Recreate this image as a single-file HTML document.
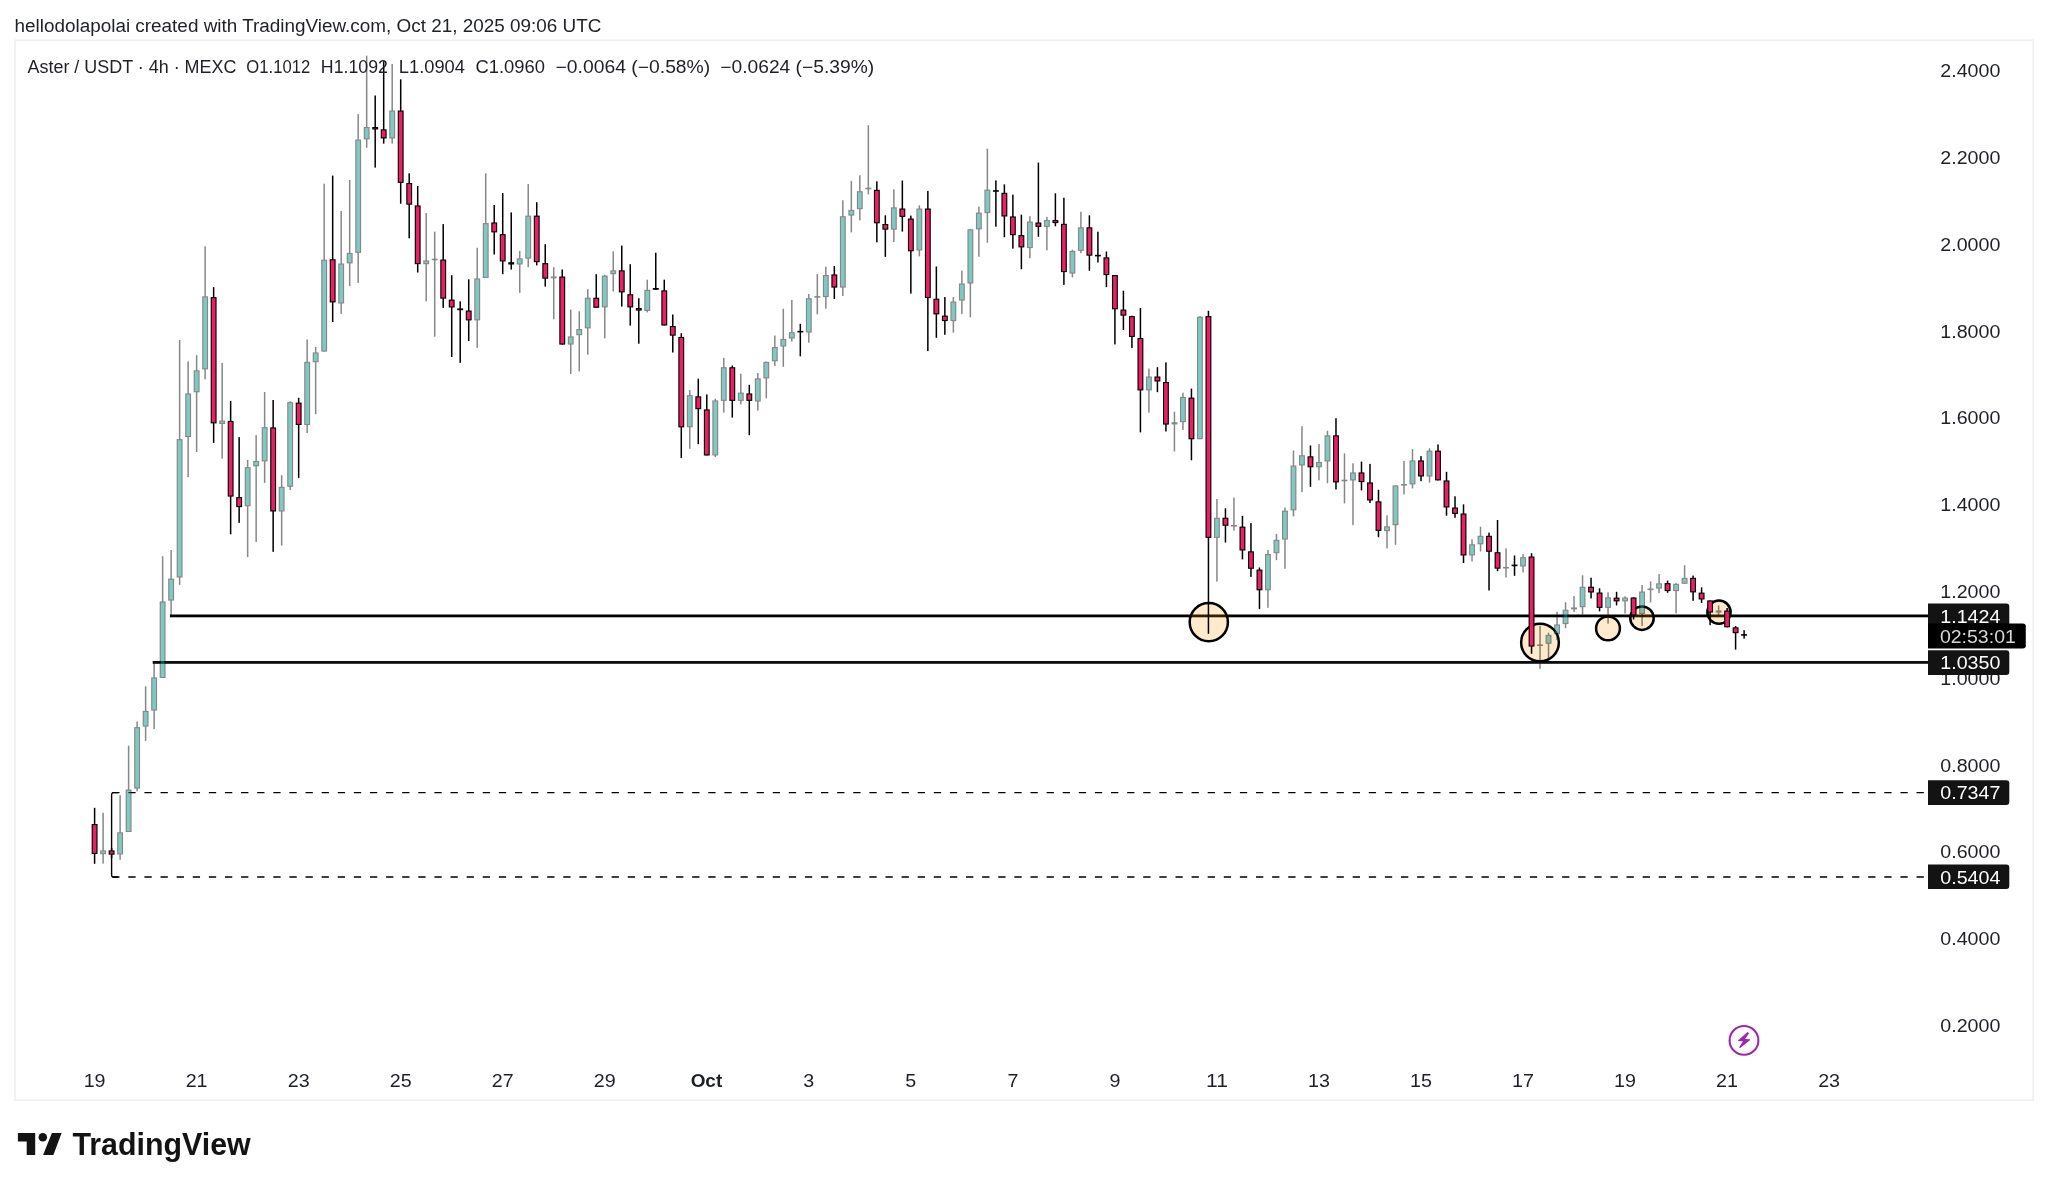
<!DOCTYPE html>
<html><head><meta charset="utf-8"><title>Aster / USDT chart</title>
<style>html,body{margin:0;padding:0;background:#fff;width:2048px;height:1189px;overflow:hidden}</style>
</head><body>
<svg width="2048" height="1189" viewBox="0 0 2048 1189" style="display:block;will-change:transform"><rect x="0" y="0" width="2048" height="1189" fill="#ffffff"/><rect x="15" y="40.2" width="2018.2" height="1060" fill="none" stroke="#f0f0f0" stroke-width="1.6"/><text x="14.55" y="31.9" font-family="'Liberation Sans', Arial, sans-serif" font-size="18" fill="#1e2026" textLength="586.8" lengthAdjust="spacingAndGlyphs">hellodolapolai created with TradingView.com, Oct 21, 2025 09:06 UTC</text><text x="1940.31" y="77.2" font-family="'Liberation Sans', Arial, sans-serif" font-size="18" fill="#1e2026" textLength="60.06" lengthAdjust="spacingAndGlyphs">2.4000</text><text x="1940.31" y="164.0" font-family="'Liberation Sans', Arial, sans-serif" font-size="18" fill="#1e2026" textLength="60.06" lengthAdjust="spacingAndGlyphs">2.2000</text><text x="1940.31" y="250.8" font-family="'Liberation Sans', Arial, sans-serif" font-size="18" fill="#1e2026" textLength="60.06" lengthAdjust="spacingAndGlyphs">2.0000</text><text x="1940.31" y="337.6" font-family="'Liberation Sans', Arial, sans-serif" font-size="18" fill="#1e2026" textLength="60.06" lengthAdjust="spacingAndGlyphs">1.8000</text><text x="1940.31" y="424.4" font-family="'Liberation Sans', Arial, sans-serif" font-size="18" fill="#1e2026" textLength="60.06" lengthAdjust="spacingAndGlyphs">1.6000</text><text x="1940.31" y="511.2" font-family="'Liberation Sans', Arial, sans-serif" font-size="18" fill="#1e2026" textLength="60.06" lengthAdjust="spacingAndGlyphs">1.4000</text><text x="1940.31" y="598.0" font-family="'Liberation Sans', Arial, sans-serif" font-size="18" fill="#1e2026" textLength="60.06" lengthAdjust="spacingAndGlyphs">1.2000</text><text x="1940.31" y="684.8" font-family="'Liberation Sans', Arial, sans-serif" font-size="18" fill="#1e2026" textLength="60.06" lengthAdjust="spacingAndGlyphs">1.0000</text><text x="1940.31" y="771.6" font-family="'Liberation Sans', Arial, sans-serif" font-size="18" fill="#1e2026" textLength="60.06" lengthAdjust="spacingAndGlyphs">0.8000</text><text x="1940.31" y="858.4" font-family="'Liberation Sans', Arial, sans-serif" font-size="18" fill="#1e2026" textLength="60.06" lengthAdjust="spacingAndGlyphs">0.6000</text><text x="1940.31" y="945.2" font-family="'Liberation Sans', Arial, sans-serif" font-size="18" fill="#1e2026" textLength="60.06" lengthAdjust="spacingAndGlyphs">0.4000</text><text x="1940.31" y="1032.0" font-family="'Liberation Sans', Arial, sans-serif" font-size="18" fill="#1e2026" textLength="60.06" lengthAdjust="spacingAndGlyphs">0.2000</text><text x="83.65" y="1087.2" font-family="'Liberation Sans', Arial, sans-serif" font-size="18" fill="#1e2026" textLength="21.91" lengthAdjust="spacingAndGlyphs">19</text><text x="185.68" y="1087.2" font-family="'Liberation Sans', Arial, sans-serif" font-size="18" fill="#1e2026" textLength="21.91" lengthAdjust="spacingAndGlyphs">21</text><text x="287.71" y="1087.2" font-family="'Liberation Sans', Arial, sans-serif" font-size="18" fill="#1e2026" textLength="21.91" lengthAdjust="spacingAndGlyphs">23</text><text x="389.74" y="1087.2" font-family="'Liberation Sans', Arial, sans-serif" font-size="18" fill="#1e2026" textLength="21.91" lengthAdjust="spacingAndGlyphs">25</text><text x="491.77" y="1087.2" font-family="'Liberation Sans', Arial, sans-serif" font-size="18" fill="#1e2026" textLength="21.91" lengthAdjust="spacingAndGlyphs">27</text><text x="593.80" y="1087.2" font-family="'Liberation Sans', Arial, sans-serif" font-size="18" fill="#1e2026" textLength="21.91" lengthAdjust="spacingAndGlyphs">29</text><text x="690.65" y="1087.2" font-family="'Liberation Sans', Arial, sans-serif" font-size="18" font-weight="bold" fill="#1e2026" textLength="31.57" lengthAdjust="spacingAndGlyphs">Oct</text><text x="803.34" y="1087.2" font-family="'Liberation Sans', Arial, sans-serif" font-size="18" fill="#1e2026" textLength="10.95" lengthAdjust="spacingAndGlyphs">3</text><text x="905.37" y="1087.2" font-family="'Liberation Sans', Arial, sans-serif" font-size="18" fill="#1e2026" textLength="10.95" lengthAdjust="spacingAndGlyphs">5</text><text x="1007.40" y="1087.2" font-family="'Liberation Sans', Arial, sans-serif" font-size="18" fill="#1e2026" textLength="10.95" lengthAdjust="spacingAndGlyphs">7</text><text x="1109.43" y="1087.2" font-family="'Liberation Sans', Arial, sans-serif" font-size="18" fill="#1e2026" textLength="10.95" lengthAdjust="spacingAndGlyphs">9</text><text x="1205.99" y="1087.2" font-family="'Liberation Sans', Arial, sans-serif" font-size="18" fill="#1e2026" textLength="21.91" lengthAdjust="spacingAndGlyphs">11</text><text x="1308.02" y="1087.2" font-family="'Liberation Sans', Arial, sans-serif" font-size="18" fill="#1e2026" textLength="21.91" lengthAdjust="spacingAndGlyphs">13</text><text x="1410.05" y="1087.2" font-family="'Liberation Sans', Arial, sans-serif" font-size="18" fill="#1e2026" textLength="21.91" lengthAdjust="spacingAndGlyphs">15</text><text x="1512.08" y="1087.2" font-family="'Liberation Sans', Arial, sans-serif" font-size="18" fill="#1e2026" textLength="21.91" lengthAdjust="spacingAndGlyphs">17</text><text x="1614.11" y="1087.2" font-family="'Liberation Sans', Arial, sans-serif" font-size="18" fill="#1e2026" textLength="21.91" lengthAdjust="spacingAndGlyphs">19</text><text x="1716.14" y="1087.2" font-family="'Liberation Sans', Arial, sans-serif" font-size="18" fill="#1e2026" textLength="21.91" lengthAdjust="spacingAndGlyphs">21</text><text x="1818.18" y="1087.2" font-family="'Liberation Sans', Arial, sans-serif" font-size="18" fill="#1e2026" textLength="21.91" lengthAdjust="spacingAndGlyphs">23</text><rect x="169.9" y="614.5" width="1758.3" height="2.8" fill="#000"/><rect x="152.7" y="661.0" width="1775.5" height="2.8" fill="#0d0d0d"/><line x1="112.2" y1="792.6" x2="1928" y2="792.6" stroke="#000" stroke-width="1.45" stroke-dasharray="7.3 8.81"/><line x1="112.2" y1="877.0" x2="1928" y2="877.0" stroke="#000" stroke-width="1.45" stroke-dasharray="7.3 8.81"/><path d="M 118 792.6 L 113.6 792.6 Q 111.6 792.6 111.6 794.6 L 111.6 875 Q 111.6 877 113.6 877 L 118 877" fill="none" stroke="#000" stroke-width="1.4"/><circle cx="1208.8" cy="622.2" r="19.1" fill="rgba(255,152,0,0.2)" stroke="#000" stroke-width="2.5"/><circle cx="1540.0" cy="642.5" r="18.85" fill="rgba(255,152,0,0.2)" stroke="#000" stroke-width="2.5"/><circle cx="1608" cy="628.4" r="11.9" fill="rgba(255,152,0,0.2)" stroke="#000" stroke-width="2.5"/><circle cx="1642" cy="618.2" r="11.7" fill="rgba(255,152,0,0.2)" stroke="#000" stroke-width="2.5"/><circle cx="1719" cy="612.2" r="11.6" fill="rgba(255,152,0,0.2)" stroke="#000" stroke-width="2.5"/><rect x="93.85" y="807.80" width="1.5" height="56.00" fill="#000000"/><rect x="91.65" y="824.00" width="5.90" height="30.00" fill="#000000"/><rect x="92.80" y="825.10" width="3.60" height="27.80" fill="#ec1f66"/><g opacity="0.5"><rect x="102.35" y="812.80" width="1.5" height="50.80" fill="#111111"/><rect x="100.15" y="850.40" width="5.90" height="3.80" fill="#111111"/><rect x="101.30" y="851.50" width="3.60" height="1.60" fill="#009688"/></g><rect x="110.86" y="848.00" width="1.5" height="10.00" fill="#000000"/><rect x="108.66" y="850.40" width="5.90" height="4.30" fill="#000000"/><rect x="109.81" y="851.50" width="3.60" height="2.10" fill="#ec1f66"/><g opacity="0.5"><rect x="119.36" y="795.20" width="1.5" height="64.60" fill="#111111"/><rect x="117.16" y="832.30" width="5.90" height="22.20" fill="#111111"/><rect x="118.31" y="833.40" width="3.60" height="20.00" fill="#009688"/></g><g opacity="0.5"><rect x="127.86" y="745.70" width="1.5" height="86.30" fill="#111111"/><rect x="125.66" y="789.50" width="5.90" height="42.50" fill="#111111"/><rect x="126.81" y="790.60" width="3.60" height="40.30" fill="#009688"/></g><g opacity="0.5"><rect x="136.36" y="721.40" width="1.5" height="70.00" fill="#111111"/><rect x="134.16" y="727.10" width="5.90" height="61.50" fill="#111111"/><rect x="135.31" y="728.20" width="3.60" height="59.30" fill="#009688"/></g><g opacity="0.5"><rect x="144.87" y="686.30" width="1.5" height="54.60" fill="#111111"/><rect x="142.67" y="710.90" width="5.90" height="15.70" fill="#111111"/><rect x="143.82" y="712.00" width="3.60" height="13.50" fill="#009688"/></g><g opacity="0.5"><rect x="153.37" y="662.30" width="1.5" height="66.80" fill="#111111"/><rect x="151.17" y="677.40" width="5.90" height="33.20" fill="#111111"/><rect x="152.32" y="678.50" width="3.60" height="31.00" fill="#009688"/></g><g opacity="0.5"><rect x="161.87" y="556.30" width="1.5" height="121.70" fill="#111111"/><rect x="159.67" y="601.40" width="5.90" height="76.60" fill="#111111"/><rect x="160.82" y="602.50" width="3.60" height="74.40" fill="#009688"/></g><g opacity="0.5"><rect x="170.37" y="550.00" width="1.5" height="65.70" fill="#111111"/><rect x="168.17" y="578.60" width="5.90" height="22.00" fill="#111111"/><rect x="169.32" y="579.70" width="3.60" height="19.80" fill="#009688"/></g><g opacity="0.5"><rect x="178.88" y="340.00" width="1.5" height="244.90" fill="#111111"/><rect x="176.68" y="439.10" width="5.90" height="138.40" fill="#111111"/><rect x="177.83" y="440.20" width="3.60" height="136.20" fill="#009688"/></g><g opacity="0.5"><rect x="187.38" y="361.40" width="1.5" height="115.70" fill="#111111"/><rect x="185.18" y="393.40" width="5.90" height="43.70" fill="#111111"/><rect x="186.33" y="394.50" width="3.60" height="41.50" fill="#009688"/></g><g opacity="0.5"><rect x="195.88" y="355.10" width="1.5" height="96.90" fill="#111111"/><rect x="193.68" y="370.30" width="5.90" height="22.00" fill="#111111"/><rect x="194.83" y="371.40" width="3.60" height="19.80" fill="#009688"/></g><g opacity="0.5"><rect x="204.38" y="246.30" width="1.5" height="133.10" fill="#111111"/><rect x="202.18" y="296.30" width="5.90" height="73.10" fill="#111111"/><rect x="203.33" y="297.40" width="3.60" height="70.90" fill="#009688"/></g><rect x="212.89" y="287.10" width="1.5" height="155.80" fill="#000000"/><rect x="210.69" y="297.10" width="5.90" height="126.30" fill="#000000"/><rect x="211.84" y="298.20" width="3.60" height="124.10" fill="#ec1f66"/><g opacity="0.5"><rect x="221.39" y="362.90" width="1.5" height="95.70" fill="#111111"/><rect x="219.19" y="420.60" width="5.90" height="3.40" fill="#111111"/><rect x="220.34" y="421.70" width="3.60" height="1.20" fill="#009688"/></g><rect x="229.89" y="400.90" width="1.5" height="133.40" fill="#000000"/><rect x="227.69" y="420.90" width="5.90" height="75.70" fill="#000000"/><rect x="228.84" y="422.00" width="3.60" height="73.50" fill="#ec1f66"/><rect x="238.39" y="437.10" width="1.5" height="85.80" fill="#000000"/><rect x="236.19" y="497.10" width="5.90" height="10.00" fill="#000000"/><rect x="237.34" y="498.20" width="3.60" height="7.80" fill="#ec1f66"/><g opacity="0.5"><rect x="246.90" y="460.00" width="1.5" height="97.10" fill="#111111"/><rect x="244.70" y="467.10" width="5.90" height="39.20" fill="#111111"/><rect x="245.85" y="468.20" width="3.60" height="37.00" fill="#009688"/></g><g opacity="0.5"><rect x="255.40" y="435.10" width="1.5" height="106.90" fill="#111111"/><rect x="253.20" y="460.90" width="5.90" height="5.40" fill="#111111"/><rect x="254.35" y="462.00" width="3.60" height="3.20" fill="#009688"/></g><g opacity="0.5"><rect x="263.90" y="392.00" width="1.5" height="90.90" fill="#111111"/><rect x="261.70" y="427.10" width="5.90" height="34.30" fill="#111111"/><rect x="262.85" y="428.20" width="3.60" height="32.10" fill="#009688"/></g><rect x="272.40" y="400.00" width="1.5" height="151.80" fill="#000000"/><rect x="270.20" y="427.40" width="5.90" height="84.10" fill="#000000"/><rect x="271.35" y="428.50" width="3.60" height="81.90" fill="#ec1f66"/><g opacity="0.5"><rect x="280.91" y="475.20" width="1.5" height="70.40" fill="#111111"/><rect x="278.71" y="486.80" width="5.90" height="24.70" fill="#111111"/><rect x="279.86" y="487.90" width="3.60" height="22.50" fill="#009688"/></g><g opacity="0.5"><rect x="289.41" y="401.30" width="1.5" height="88.70" fill="#111111"/><rect x="287.21" y="402.10" width="5.90" height="84.70" fill="#111111"/><rect x="288.36" y="403.20" width="3.60" height="82.50" fill="#009688"/></g><rect x="297.91" y="397.80" width="1.5" height="80.10" fill="#000000"/><rect x="295.71" y="402.60" width="5.90" height="22.40" fill="#000000"/><rect x="296.86" y="403.70" width="3.60" height="20.20" fill="#ec1f66"/><g opacity="0.5"><rect x="306.41" y="339.50" width="1.5" height="93.50" fill="#111111"/><rect x="304.21" y="361.80" width="5.90" height="63.20" fill="#111111"/><rect x="305.36" y="362.90" width="3.60" height="61.00" fill="#009688"/></g><g opacity="0.5"><rect x="314.92" y="347.00" width="1.5" height="67.20" fill="#111111"/><rect x="312.72" y="352.40" width="5.90" height="9.90" fill="#111111"/><rect x="313.87" y="353.50" width="3.60" height="7.70" fill="#009688"/></g><g opacity="0.5"><rect x="323.42" y="183.70" width="1.5" height="167.90" fill="#111111"/><rect x="321.22" y="259.70" width="5.90" height="91.90" fill="#111111"/><rect x="322.37" y="260.80" width="3.60" height="89.70" fill="#009688"/></g><rect x="331.92" y="175.60" width="1.5" height="146.40" fill="#000000"/><rect x="329.72" y="259.20" width="5.90" height="43.20" fill="#000000"/><rect x="330.87" y="260.30" width="3.60" height="41.00" fill="#ec1f66"/><g opacity="0.5"><rect x="340.43" y="211.00" width="1.5" height="102.90" fill="#111111"/><rect x="338.23" y="263.50" width="5.90" height="40.00" fill="#111111"/><rect x="339.38" y="264.60" width="3.60" height="37.80" fill="#009688"/></g><g opacity="0.5"><rect x="348.93" y="180.00" width="1.5" height="106.10" fill="#111111"/><rect x="346.73" y="252.90" width="5.90" height="10.50" fill="#111111"/><rect x="347.88" y="254.00" width="3.60" height="8.30" fill="#009688"/></g><g opacity="0.5"><rect x="357.43" y="114.10" width="1.5" height="168.80" fill="#111111"/><rect x="355.23" y="139.50" width="5.90" height="113.40" fill="#111111"/><rect x="356.38" y="140.60" width="3.60" height="111.20" fill="#009688"/></g><g opacity="0.5"><rect x="365.93" y="55.70" width="1.5" height="92.10" fill="#111111"/><rect x="363.73" y="127.00" width="5.90" height="12.40" fill="#111111"/><rect x="364.88" y="128.10" width="3.60" height="10.20" fill="#009688"/></g><rect x="374.44" y="95.50" width="1.5" height="72.10" fill="#000000"/><rect x="372.24" y="127.00" width="5.90" height="2.50" fill="#000000"/><rect x="373.39" y="128.10" width="3.60" height="0.30" fill="#ec1f66"/><rect x="382.94" y="61.30" width="1.5" height="82.30" fill="#000000"/><rect x="380.74" y="129.30" width="5.90" height="9.20" fill="#000000"/><rect x="381.89" y="130.40" width="3.60" height="7.00" fill="#ec1f66"/><g opacity="0.5"><rect x="391.44" y="63.90" width="1.5" height="79.70" fill="#111111"/><rect x="389.24" y="110.50" width="5.90" height="28.00" fill="#111111"/><rect x="390.39" y="111.60" width="3.60" height="25.80" fill="#009688"/></g><rect x="399.94" y="79.30" width="1.5" height="124.40" fill="#000000"/><rect x="397.74" y="110.50" width="5.90" height="72.40" fill="#000000"/><rect x="398.89" y="111.60" width="3.60" height="70.20" fill="#ec1f66"/><rect x="408.45" y="173.30" width="1.5" height="65.00" fill="#000000"/><rect x="406.25" y="183.00" width="5.90" height="21.70" fill="#000000"/><rect x="407.40" y="184.10" width="3.60" height="19.50" fill="#ec1f66"/><rect x="416.95" y="186.00" width="1.5" height="86.50" fill="#000000"/><rect x="414.75" y="205.40" width="5.90" height="58.80" fill="#000000"/><rect x="415.90" y="206.50" width="3.60" height="56.60" fill="#ec1f66"/><g opacity="0.5"><rect x="425.45" y="213.00" width="1.5" height="88.30" fill="#111111"/><rect x="423.25" y="260.40" width="5.90" height="3.80" fill="#111111"/><rect x="424.40" y="261.50" width="3.60" height="1.60" fill="#009688"/></g><g opacity="0.5"><rect x="433.95" y="231.60" width="1.5" height="105.10" fill="#111111"/><rect x="431.75" y="258.70" width="5.90" height="1.6" fill="#111111"/></g><rect x="442.46" y="224.10" width="1.5" height="83.80" fill="#000000"/><rect x="440.26" y="259.50" width="5.90" height="39.20" fill="#000000"/><rect x="441.41" y="260.60" width="3.60" height="37.00" fill="#ec1f66"/><rect x="450.96" y="275.20" width="1.5" height="81.80" fill="#000000"/><rect x="448.76" y="299.60" width="5.90" height="7.90" fill="#000000"/><rect x="449.91" y="300.70" width="3.60" height="5.70" fill="#ec1f66"/><rect x="459.46" y="301.30" width="1.5" height="61.50" fill="#000000"/><rect x="457.26" y="308.40" width="5.90" height="1.80" fill="#000000"/><rect x="467.96" y="279.30" width="1.5" height="61.80" fill="#000000"/><rect x="465.76" y="310.50" width="5.90" height="9.90" fill="#000000"/><rect x="466.91" y="311.60" width="3.60" height="7.70" fill="#ec1f66"/><g opacity="0.5"><rect x="476.47" y="247.80" width="1.5" height="100.00" fill="#111111"/><rect x="474.27" y="278.40" width="5.90" height="42.00" fill="#111111"/><rect x="475.42" y="279.50" width="3.60" height="39.80" fill="#009688"/></g><g opacity="0.5"><rect x="484.97" y="173.30" width="1.5" height="104.70" fill="#111111"/><rect x="482.77" y="223.10" width="5.90" height="54.90" fill="#111111"/><rect x="483.92" y="224.20" width="3.60" height="52.70" fill="#009688"/></g><rect x="493.47" y="205.00" width="1.5" height="49.50" fill="#000000"/><rect x="491.27" y="222.40" width="5.90" height="10.00" fill="#000000"/><rect x="492.42" y="223.50" width="3.60" height="7.80" fill="#ec1f66"/><rect x="501.97" y="193.00" width="1.5" height="81.20" fill="#000000"/><rect x="499.77" y="234.10" width="5.90" height="27.40" fill="#000000"/><rect x="500.92" y="235.20" width="3.60" height="25.20" fill="#ec1f66"/><rect x="510.48" y="212.40" width="1.5" height="57.10" fill="#000000"/><rect x="508.28" y="262.20" width="5.90" height="2.30" fill="#000000"/><rect x="509.43" y="263.30" width="3.60" height="0.10" fill="#ec1f66"/><g opacity="0.5"><rect x="518.98" y="250.90" width="1.5" height="41.90" fill="#111111"/><rect x="516.78" y="258.30" width="5.90" height="6.20" fill="#111111"/><rect x="517.93" y="259.40" width="3.60" height="4.00" fill="#009688"/></g><g opacity="0.5"><rect x="527.48" y="184.10" width="1.5" height="83.10" fill="#111111"/><rect x="525.28" y="215.60" width="5.90" height="43.10" fill="#111111"/><rect x="526.43" y="216.70" width="3.60" height="40.90" fill="#009688"/></g><rect x="535.99" y="202.20" width="1.5" height="63.20" fill="#000000"/><rect x="533.79" y="215.60" width="5.90" height="46.60" fill="#000000"/><rect x="534.94" y="216.70" width="3.60" height="44.40" fill="#ec1f66"/><rect x="544.49" y="244.20" width="1.5" height="42.40" fill="#000000"/><rect x="542.29" y="263.10" width="5.90" height="15.60" fill="#000000"/><rect x="543.44" y="264.20" width="3.60" height="13.40" fill="#ec1f66"/><g opacity="0.5"><rect x="552.99" y="267.20" width="1.5" height="52.10" fill="#111111"/><rect x="550.79" y="276.50" width="5.90" height="1.80" fill="#111111"/></g><rect x="561.49" y="269.50" width="1.5" height="75.10" fill="#000000"/><rect x="559.29" y="276.50" width="5.90" height="68.10" fill="#000000"/><rect x="560.44" y="277.60" width="3.60" height="65.90" fill="#ec1f66"/><g opacity="0.5"><rect x="570.00" y="309.60" width="1.5" height="64.50" fill="#111111"/><rect x="567.80" y="336.40" width="5.90" height="8.20" fill="#111111"/><rect x="568.95" y="337.50" width="3.60" height="6.00" fill="#009688"/></g><g opacity="0.5"><rect x="578.50" y="311.30" width="1.5" height="60.10" fill="#111111"/><rect x="576.30" y="329.00" width="5.90" height="6.20" fill="#111111"/><rect x="577.45" y="330.10" width="3.60" height="4.00" fill="#009688"/></g><g opacity="0.5"><rect x="587.00" y="289.20" width="1.5" height="65.50" fill="#111111"/><rect x="584.80" y="297.70" width="5.90" height="30.70" fill="#111111"/><rect x="585.95" y="298.80" width="3.60" height="28.50" fill="#009688"/></g><rect x="595.50" y="274.20" width="1.5" height="33.60" fill="#000000"/><rect x="593.30" y="297.70" width="5.90" height="10.10" fill="#000000"/><rect x="594.45" y="298.80" width="3.60" height="7.90" fill="#ec1f66"/><g opacity="0.5"><rect x="604.01" y="274.80" width="1.5" height="63.60" fill="#111111"/><rect x="601.81" y="275.60" width="5.90" height="31.80" fill="#111111"/><rect x="602.96" y="276.70" width="3.60" height="29.60" fill="#009688"/></g><g opacity="0.5"><rect x="612.51" y="251.40" width="1.5" height="40.10" fill="#111111"/><rect x="610.31" y="270.30" width="5.90" height="3.90" fill="#111111"/><rect x="611.46" y="271.40" width="3.60" height="1.70" fill="#009688"/></g><rect x="621.01" y="245.60" width="1.5" height="61.00" fill="#000000"/><rect x="618.81" y="270.30" width="5.90" height="22.10" fill="#000000"/><rect x="619.96" y="271.40" width="3.60" height="19.90" fill="#ec1f66"/><rect x="629.51" y="264.20" width="1.5" height="61.40" fill="#000000"/><rect x="627.31" y="294.20" width="5.90" height="13.20" fill="#000000"/><rect x="628.46" y="295.30" width="3.60" height="11.00" fill="#ec1f66"/><rect x="638.02" y="298.30" width="1.5" height="45.40" fill="#000000"/><rect x="635.82" y="308.00" width="5.90" height="2.60" fill="#000000"/><rect x="636.97" y="309.10" width="3.60" height="0.40" fill="#ec1f66"/><g opacity="0.5"><rect x="646.52" y="279.70" width="1.5" height="32.70" fill="#111111"/><rect x="644.32" y="289.80" width="5.90" height="21.20" fill="#111111"/><rect x="645.47" y="290.90" width="3.60" height="19.00" fill="#009688"/></g><rect x="655.02" y="252.70" width="1.5" height="37.10" fill="#000000"/><rect x="652.82" y="288.00" width="5.90" height="1.80" fill="#000000"/><rect x="663.52" y="279.70" width="1.5" height="45.80" fill="#000000"/><rect x="661.32" y="290.30" width="5.90" height="35.20" fill="#000000"/><rect x="662.47" y="291.40" width="3.60" height="33.00" fill="#ec1f66"/><rect x="672.03" y="314.50" width="1.5" height="38.00" fill="#000000"/><rect x="669.83" y="326.00" width="5.90" height="9.70" fill="#000000"/><rect x="670.98" y="327.10" width="3.60" height="7.50" fill="#ec1f66"/><rect x="680.53" y="333.20" width="1.5" height="124.90" fill="#000000"/><rect x="678.33" y="336.90" width="5.90" height="90.50" fill="#000000"/><rect x="679.48" y="338.00" width="3.60" height="88.30" fill="#ec1f66"/><g opacity="0.5"><rect x="689.03" y="390.10" width="1.5" height="58.70" fill="#111111"/><rect x="686.83" y="395.10" width="5.90" height="32.20" fill="#111111"/><rect x="687.98" y="396.20" width="3.60" height="30.00" fill="#009688"/></g><rect x="697.53" y="378.70" width="1.5" height="65.50" fill="#000000"/><rect x="695.33" y="396.30" width="5.90" height="12.90" fill="#000000"/><rect x="696.48" y="397.40" width="3.60" height="10.70" fill="#ec1f66"/><rect x="706.04" y="394.40" width="1.5" height="61.10" fill="#000000"/><rect x="703.84" y="409.40" width="5.90" height="46.10" fill="#000000"/><rect x="704.99" y="410.50" width="3.60" height="43.90" fill="#ec1f66"/><g opacity="0.5"><rect x="714.54" y="398.70" width="1.5" height="58.30" fill="#111111"/><rect x="712.34" y="400.40" width="5.90" height="55.10" fill="#111111"/><rect x="713.49" y="401.50" width="3.60" height="52.90" fill="#009688"/></g><g opacity="0.5"><rect x="723.04" y="357.90" width="1.5" height="54.70" fill="#111111"/><rect x="720.84" y="367.20" width="5.90" height="33.70" fill="#111111"/><rect x="721.99" y="368.30" width="3.60" height="31.50" fill="#009688"/></g><rect x="731.54" y="365.50" width="1.5" height="52.10" fill="#000000"/><rect x="729.34" y="367.20" width="5.90" height="33.70" fill="#000000"/><rect x="730.49" y="368.30" width="3.60" height="31.50" fill="#ec1f66"/><g opacity="0.5"><rect x="740.05" y="373.70" width="1.5" height="30.70" fill="#111111"/><rect x="737.85" y="392.60" width="5.90" height="8.30" fill="#111111"/><rect x="739.00" y="393.70" width="3.60" height="6.10" fill="#009688"/></g><rect x="748.55" y="384.80" width="1.5" height="50.40" fill="#000000"/><rect x="746.35" y="393.40" width="5.90" height="7.50" fill="#000000"/><rect x="747.50" y="394.50" width="3.60" height="5.30" fill="#ec1f66"/><g opacity="0.5"><rect x="757.05" y="373.00" width="1.5" height="37.60" fill="#111111"/><rect x="754.85" y="378.30" width="5.90" height="23.30" fill="#111111"/><rect x="756.00" y="379.40" width="3.60" height="21.10" fill="#009688"/></g><g opacity="0.5"><rect x="765.56" y="361.50" width="1.5" height="36.90" fill="#111111"/><rect x="763.36" y="361.90" width="5.90" height="16.50" fill="#111111"/><rect x="764.51" y="363.00" width="3.60" height="14.30" fill="#009688"/></g><g opacity="0.5"><rect x="774.06" y="335.50" width="1.5" height="30.50" fill="#111111"/><rect x="771.86" y="347.00" width="5.90" height="14.30" fill="#111111"/><rect x="773.01" y="348.10" width="3.60" height="12.10" fill="#009688"/></g><g opacity="0.5"><rect x="782.56" y="308.70" width="1.5" height="58.10" fill="#111111"/><rect x="780.36" y="338.90" width="5.90" height="7.60" fill="#111111"/><rect x="781.51" y="340.00" width="3.60" height="5.40" fill="#009688"/></g><g opacity="0.5"><rect x="791.06" y="300.00" width="1.5" height="41.60" fill="#111111"/><rect x="788.86" y="332.20" width="5.90" height="6.30" fill="#111111"/><rect x="790.01" y="333.30" width="3.60" height="4.10" fill="#009688"/></g><rect x="799.57" y="323.80" width="1.5" height="32.50" fill="#000000"/><rect x="797.37" y="330.85" width="5.90" height="1.6" fill="#000000"/><g opacity="0.5"><rect x="808.07" y="294.00" width="1.5" height="48.70" fill="#111111"/><rect x="805.87" y="298.20" width="5.90" height="34.40" fill="#111111"/><rect x="807.02" y="299.30" width="3.60" height="32.20" fill="#009688"/></g><g opacity="0.5"><rect x="816.57" y="274.00" width="1.5" height="40.30" fill="#111111"/><rect x="814.37" y="296.10" width="5.90" height="1.6" fill="#111111"/></g><g opacity="0.5"><rect x="825.07" y="266.60" width="1.5" height="42.10" fill="#111111"/><rect x="822.87" y="275.00" width="5.90" height="22.10" fill="#111111"/><rect x="824.02" y="276.10" width="3.60" height="19.90" fill="#009688"/></g><rect x="833.58" y="266.00" width="1.5" height="33.00" fill="#000000"/><rect x="831.38" y="274.40" width="5.90" height="13.20" fill="#000000"/><rect x="832.53" y="275.50" width="3.60" height="11.00" fill="#ec1f66"/><g opacity="0.5"><rect x="842.08" y="200.30" width="1.5" height="95.70" fill="#111111"/><rect x="839.88" y="216.20" width="5.90" height="71.40" fill="#111111"/><rect x="841.03" y="217.30" width="3.60" height="69.20" fill="#009688"/></g><g opacity="0.5"><rect x="850.58" y="180.90" width="1.5" height="51.50" fill="#111111"/><rect x="848.38" y="209.90" width="5.90" height="5.70" fill="#111111"/><rect x="849.53" y="211.00" width="3.60" height="3.50" fill="#009688"/></g><g opacity="0.5"><rect x="859.08" y="175.20" width="1.5" height="45.20" fill="#111111"/><rect x="856.88" y="191.20" width="5.90" height="18.00" fill="#111111"/><rect x="858.03" y="192.30" width="3.60" height="15.80" fill="#009688"/></g><g opacity="0.5"><rect x="867.59" y="125.10" width="1.5" height="69.30" fill="#111111"/><rect x="865.39" y="187.70" width="5.90" height="1.6" fill="#111111"/></g><rect x="876.09" y="181.30" width="1.5" height="61.00" fill="#000000"/><rect x="873.89" y="189.80" width="5.90" height="33.50" fill="#000000"/><rect x="875.04" y="190.90" width="3.60" height="31.30" fill="#ec1f66"/><rect x="884.59" y="215.30" width="1.5" height="41.60" fill="#000000"/><rect x="882.39" y="224.00" width="5.90" height="5.70" fill="#000000"/><rect x="883.54" y="225.10" width="3.60" height="3.50" fill="#ec1f66"/><g opacity="0.5"><rect x="893.09" y="189.30" width="1.5" height="52.70" fill="#111111"/><rect x="890.89" y="207.30" width="5.90" height="22.40" fill="#111111"/><rect x="892.04" y="208.40" width="3.60" height="20.20" fill="#009688"/></g><rect x="901.60" y="180.50" width="1.5" height="51.10" fill="#000000"/><rect x="899.40" y="208.50" width="5.90" height="8.40" fill="#000000"/><rect x="900.55" y="209.60" width="3.60" height="6.20" fill="#ec1f66"/><rect x="910.10" y="215.60" width="1.5" height="78.00" fill="#000000"/><rect x="907.90" y="218.50" width="5.90" height="32.80" fill="#000000"/><rect x="909.05" y="219.60" width="3.60" height="30.60" fill="#ec1f66"/><g opacity="0.5"><rect x="918.60" y="205.30" width="1.5" height="51.10" fill="#111111"/><rect x="916.40" y="208.50" width="5.90" height="42.00" fill="#111111"/><rect x="917.55" y="209.60" width="3.60" height="39.80" fill="#009688"/></g><rect x="927.10" y="190.90" width="1.5" height="160.20" fill="#000000"/><rect x="924.90" y="208.50" width="5.90" height="89.60" fill="#000000"/><rect x="926.05" y="209.60" width="3.60" height="87.40" fill="#ec1f66"/><rect x="935.61" y="266.50" width="1.5" height="71.30" fill="#000000"/><rect x="933.41" y="298.70" width="5.90" height="15.70" fill="#000000"/><rect x="934.56" y="299.80" width="3.60" height="13.50" fill="#ec1f66"/><rect x="944.11" y="297.00" width="1.5" height="37.80" fill="#000000"/><rect x="941.91" y="315.60" width="5.90" height="5.50" fill="#000000"/><rect x="943.06" y="316.70" width="3.60" height="3.30" fill="#ec1f66"/><g opacity="0.5"><rect x="952.61" y="297.00" width="1.5" height="35.60" fill="#111111"/><rect x="950.41" y="301.50" width="5.90" height="19.60" fill="#111111"/><rect x="951.56" y="302.60" width="3.60" height="17.40" fill="#009688"/></g><g opacity="0.5"><rect x="961.12" y="270.60" width="1.5" height="43.50" fill="#111111"/><rect x="958.92" y="283.50" width="5.90" height="17.10" fill="#111111"/><rect x="960.07" y="284.60" width="3.60" height="14.90" fill="#009688"/></g><g opacity="0.5"><rect x="969.62" y="228.90" width="1.5" height="88.50" fill="#111111"/><rect x="967.42" y="229.30" width="5.90" height="54.20" fill="#111111"/><rect x="968.57" y="230.40" width="3.60" height="52.00" fill="#009688"/></g><g opacity="0.5"><rect x="978.12" y="206.70" width="1.5" height="50.00" fill="#111111"/><rect x="975.92" y="212.60" width="5.90" height="16.80" fill="#111111"/><rect x="977.07" y="213.70" width="3.60" height="14.60" fill="#009688"/></g><g opacity="0.5"><rect x="986.62" y="148.70" width="1.5" height="94.10" fill="#111111"/><rect x="984.42" y="189.60" width="5.90" height="23.50" fill="#111111"/><rect x="985.57" y="190.70" width="3.60" height="21.30" fill="#009688"/></g><rect x="995.13" y="180.40" width="1.5" height="46.30" fill="#000000"/><rect x="992.93" y="190.15" width="5.90" height="1.6" fill="#000000"/><rect x="1003.63" y="184.40" width="1.5" height="52.80" fill="#000000"/><rect x="1001.43" y="192.80" width="5.90" height="23.70" fill="#000000"/><rect x="1002.58" y="193.90" width="3.60" height="21.50" fill="#ec1f66"/><rect x="1012.13" y="194.70" width="1.5" height="53.90" fill="#000000"/><rect x="1009.93" y="216.40" width="5.90" height="18.80" fill="#000000"/><rect x="1011.08" y="217.50" width="3.60" height="16.60" fill="#ec1f66"/><rect x="1020.63" y="214.60" width="1.5" height="54.60" fill="#000000"/><rect x="1018.43" y="235.10" width="5.90" height="12.30" fill="#000000"/><rect x="1019.58" y="236.20" width="3.60" height="10.10" fill="#ec1f66"/><g opacity="0.5"><rect x="1029.14" y="216.20" width="1.5" height="42.00" fill="#111111"/><rect x="1026.94" y="221.50" width="5.90" height="26.60" fill="#111111"/><rect x="1028.09" y="222.60" width="3.60" height="24.40" fill="#009688"/></g><rect x="1037.64" y="162.60" width="1.5" height="74.20" fill="#000000"/><rect x="1035.44" y="222.50" width="5.90" height="4.40" fill="#000000"/><rect x="1036.59" y="223.60" width="3.60" height="2.20" fill="#ec1f66"/><g opacity="0.5"><rect x="1046.14" y="216.80" width="1.5" height="33.50" fill="#111111"/><rect x="1043.94" y="220.00" width="5.90" height="6.90" fill="#111111"/><rect x="1045.09" y="221.10" width="3.60" height="4.70" fill="#009688"/></g><rect x="1054.64" y="193.30" width="1.5" height="33.00" fill="#000000"/><rect x="1052.44" y="220.00" width="5.90" height="3.10" fill="#000000"/><rect x="1053.59" y="221.10" width="3.60" height="0.90" fill="#ec1f66"/><rect x="1063.15" y="197.70" width="1.5" height="87.20" fill="#000000"/><rect x="1060.95" y="223.80" width="5.90" height="48.30" fill="#000000"/><rect x="1062.10" y="224.90" width="3.60" height="46.10" fill="#ec1f66"/><g opacity="0.5"><rect x="1071.65" y="249.60" width="1.5" height="27.80" fill="#111111"/><rect x="1069.45" y="250.90" width="5.90" height="22.70" fill="#111111"/><rect x="1070.60" y="252.00" width="3.60" height="20.50" fill="#009688"/></g><g opacity="0.5"><rect x="1080.15" y="211.80" width="1.5" height="41.40" fill="#111111"/><rect x="1077.95" y="227.30" width="5.90" height="23.60" fill="#111111"/><rect x="1079.10" y="228.40" width="3.60" height="21.40" fill="#009688"/></g><rect x="1088.65" y="215.30" width="1.5" height="55.50" fill="#000000"/><rect x="1086.45" y="227.30" width="5.90" height="28.40" fill="#000000"/><rect x="1087.60" y="228.40" width="3.60" height="26.20" fill="#ec1f66"/><rect x="1097.16" y="231.70" width="1.5" height="30.80" fill="#000000"/><rect x="1094.96" y="254.80" width="5.90" height="1.6" fill="#000000"/><rect x="1105.66" y="251.50" width="1.5" height="35.60" fill="#000000"/><rect x="1103.46" y="257.30" width="5.90" height="17.80" fill="#000000"/><rect x="1104.61" y="258.40" width="3.60" height="15.60" fill="#ec1f66"/><rect x="1114.16" y="275.00" width="1.5" height="69.40" fill="#000000"/><rect x="1111.96" y="275.00" width="5.90" height="34.30" fill="#000000"/><rect x="1113.11" y="276.10" width="3.60" height="32.10" fill="#ec1f66"/><rect x="1122.66" y="290.70" width="1.5" height="39.30" fill="#000000"/><rect x="1120.46" y="309.60" width="5.90" height="6.10" fill="#000000"/><rect x="1121.61" y="310.70" width="3.60" height="3.90" fill="#ec1f66"/><rect x="1131.17" y="315.70" width="1.5" height="32.40" fill="#000000"/><rect x="1128.97" y="316.10" width="5.90" height="20.90" fill="#000000"/><rect x="1130.12" y="317.20" width="3.60" height="18.70" fill="#ec1f66"/><rect x="1139.67" y="308.00" width="1.5" height="124.40" fill="#000000"/><rect x="1137.47" y="338.00" width="5.90" height="52.40" fill="#000000"/><rect x="1138.62" y="339.10" width="3.60" height="50.20" fill="#ec1f66"/><g opacity="0.5"><rect x="1148.17" y="368.50" width="1.5" height="44.10" fill="#111111"/><rect x="1145.97" y="376.50" width="5.90" height="13.90" fill="#111111"/><rect x="1147.12" y="377.60" width="3.60" height="11.70" fill="#009688"/></g><rect x="1156.67" y="367.20" width="1.5" height="25.00" fill="#000000"/><rect x="1154.47" y="376.50" width="5.90" height="5.00" fill="#000000"/><rect x="1155.62" y="377.60" width="3.60" height="2.80" fill="#ec1f66"/><rect x="1165.18" y="362.40" width="1.5" height="69.10" fill="#000000"/><rect x="1162.98" y="382.00" width="5.90" height="42.60" fill="#000000"/><rect x="1164.13" y="383.10" width="3.60" height="40.40" fill="#ec1f66"/><g opacity="0.5"><rect x="1173.68" y="411.70" width="1.5" height="39.80" fill="#111111"/><rect x="1171.48" y="422.20" width="5.90" height="2.20" fill="#111111"/></g><g opacity="0.5"><rect x="1182.18" y="392.60" width="1.5" height="37.40" fill="#111111"/><rect x="1179.98" y="396.90" width="5.90" height="25.30" fill="#111111"/><rect x="1181.13" y="398.00" width="3.60" height="23.10" fill="#009688"/></g><rect x="1190.69" y="388.60" width="1.5" height="71.70" fill="#000000"/><rect x="1188.49" y="397.60" width="5.90" height="41.70" fill="#000000"/><rect x="1189.64" y="398.70" width="3.60" height="39.50" fill="#ec1f66"/><g opacity="0.5"><rect x="1199.19" y="316.10" width="1.5" height="123.10" fill="#111111"/><rect x="1196.99" y="316.70" width="5.90" height="122.50" fill="#111111"/><rect x="1198.14" y="317.80" width="3.60" height="120.30" fill="#009688"/></g><rect x="1207.69" y="310.80" width="1.5" height="323.00" fill="#000000"/><rect x="1205.49" y="316.10" width="5.90" height="221.80" fill="#000000"/><rect x="1206.64" y="317.20" width="3.60" height="219.60" fill="#ec1f66"/><g opacity="0.5"><rect x="1216.19" y="498.90" width="1.5" height="82.80" fill="#111111"/><rect x="1213.99" y="517.70" width="5.90" height="20.20" fill="#111111"/><rect x="1215.14" y="518.80" width="3.60" height="18.00" fill="#009688"/></g><rect x="1224.70" y="508.30" width="1.5" height="34.20" fill="#000000"/><rect x="1222.50" y="517.70" width="5.90" height="8.10" fill="#000000"/><rect x="1223.65" y="518.80" width="3.60" height="5.90" fill="#ec1f66"/><g opacity="0.5"><rect x="1233.20" y="497.60" width="1.5" height="33.00" fill="#111111"/><rect x="1231.00" y="525.00" width="5.90" height="1.6" fill="#111111"/></g><rect x="1241.70" y="515.90" width="1.5" height="43.50" fill="#000000"/><rect x="1239.50" y="526.60" width="5.90" height="23.90" fill="#000000"/><rect x="1240.65" y="527.70" width="3.60" height="21.70" fill="#ec1f66"/><rect x="1250.20" y="523.10" width="1.5" height="53.80" fill="#000000"/><rect x="1248.00" y="551.30" width="5.90" height="17.50" fill="#000000"/><rect x="1249.15" y="552.40" width="3.60" height="15.30" fill="#ec1f66"/><rect x="1258.71" y="567.50" width="1.5" height="41.60" fill="#000000"/><rect x="1256.51" y="569.60" width="5.90" height="20.70" fill="#000000"/><rect x="1257.66" y="570.70" width="3.60" height="18.50" fill="#ec1f66"/><g opacity="0.5"><rect x="1267.21" y="550.00" width="1.5" height="57.80" fill="#111111"/><rect x="1265.01" y="554.00" width="5.90" height="36.30" fill="#111111"/><rect x="1266.16" y="555.10" width="3.60" height="34.10" fill="#009688"/></g><g opacity="0.5"><rect x="1275.71" y="533.90" width="1.5" height="26.30" fill="#111111"/><rect x="1273.51" y="539.80" width="5.90" height="13.40" fill="#111111"/><rect x="1274.66" y="540.90" width="3.60" height="11.20" fill="#009688"/></g><g opacity="0.5"><rect x="1284.21" y="507.50" width="1.5" height="61.30" fill="#111111"/><rect x="1282.01" y="510.60" width="5.90" height="29.00" fill="#111111"/><rect x="1283.16" y="511.70" width="3.60" height="26.80" fill="#009688"/></g><g opacity="0.5"><rect x="1292.72" y="450.50" width="1.5" height="65.90" fill="#111111"/><rect x="1290.52" y="465.50" width="5.90" height="44.90" fill="#111111"/><rect x="1291.67" y="466.60" width="3.60" height="42.70" fill="#009688"/></g><g opacity="0.5"><rect x="1301.22" y="426.20" width="1.5" height="66.00" fill="#111111"/><rect x="1299.02" y="455.20" width="5.90" height="10.30" fill="#111111"/><rect x="1300.17" y="456.30" width="3.60" height="8.10" fill="#009688"/></g><rect x="1309.72" y="445.50" width="1.5" height="41.30" fill="#000000"/><rect x="1307.52" y="456.30" width="5.90" height="11.00" fill="#000000"/><rect x="1308.67" y="457.40" width="3.60" height="8.80" fill="#ec1f66"/><g opacity="0.5"><rect x="1318.22" y="444.00" width="1.5" height="36.30" fill="#111111"/><rect x="1316.02" y="461.90" width="5.90" height="5.40" fill="#111111"/><rect x="1317.17" y="463.00" width="3.60" height="3.20" fill="#009688"/></g><g opacity="0.5"><rect x="1326.73" y="430.70" width="1.5" height="52.50" fill="#111111"/><rect x="1324.53" y="435.30" width="5.90" height="26.20" fill="#111111"/><rect x="1325.68" y="436.40" width="3.60" height="24.00" fill="#009688"/></g><rect x="1335.23" y="418.20" width="1.5" height="71.30" fill="#000000"/><rect x="1333.03" y="435.30" width="5.90" height="47.10" fill="#000000"/><rect x="1334.18" y="436.40" width="3.60" height="44.90" fill="#ec1f66"/><g opacity="0.5"><rect x="1343.73" y="453.40" width="1.5" height="50.00" fill="#111111"/><rect x="1341.53" y="479.70" width="5.90" height="1.6" fill="#111111"/></g><g opacity="0.5"><rect x="1352.23" y="463.30" width="1.5" height="61.90" fill="#111111"/><rect x="1350.03" y="472.40" width="5.90" height="8.10" fill="#111111"/><rect x="1351.18" y="473.50" width="3.60" height="5.90" fill="#009688"/></g><rect x="1360.74" y="461.60" width="1.5" height="28.80" fill="#000000"/><rect x="1358.54" y="472.40" width="5.90" height="9.70" fill="#000000"/><rect x="1359.69" y="473.50" width="3.60" height="7.50" fill="#ec1f66"/><rect x="1369.24" y="463.90" width="1.5" height="39.10" fill="#000000"/><rect x="1367.04" y="482.40" width="5.90" height="18.10" fill="#000000"/><rect x="1368.19" y="483.50" width="3.60" height="15.90" fill="#ec1f66"/><rect x="1377.74" y="489.80" width="1.5" height="47.40" fill="#000000"/><rect x="1375.54" y="501.30" width="5.90" height="29.60" fill="#000000"/><rect x="1376.69" y="502.40" width="3.60" height="27.40" fill="#ec1f66"/><g opacity="0.5"><rect x="1386.25" y="515.40" width="1.5" height="33.00" fill="#111111"/><rect x="1384.05" y="526.30" width="5.90" height="4.80" fill="#111111"/><rect x="1385.20" y="527.40" width="3.60" height="2.60" fill="#009688"/></g><g opacity="0.5"><rect x="1394.75" y="485.40" width="1.5" height="59.40" fill="#111111"/><rect x="1392.55" y="485.40" width="5.90" height="39.80" fill="#111111"/><rect x="1393.70" y="486.50" width="3.60" height="37.60" fill="#009688"/></g><g opacity="0.5"><rect x="1403.25" y="460.90" width="1.5" height="33.60" fill="#111111"/><rect x="1401.05" y="484.00" width="5.90" height="1.6" fill="#111111"/></g><g opacity="0.5"><rect x="1411.75" y="449.10" width="1.5" height="39.40" fill="#111111"/><rect x="1409.55" y="460.40" width="5.90" height="24.00" fill="#111111"/><rect x="1410.70" y="461.50" width="3.60" height="21.80" fill="#009688"/></g><rect x="1420.26" y="456.10" width="1.5" height="25.10" fill="#000000"/><rect x="1418.06" y="460.40" width="5.90" height="16.10" fill="#000000"/><rect x="1419.21" y="461.50" width="3.60" height="13.90" fill="#ec1f66"/><g opacity="0.5"><rect x="1428.76" y="448.30" width="1.5" height="34.30" fill="#111111"/><rect x="1426.56" y="450.60" width="5.90" height="25.90" fill="#111111"/><rect x="1427.71" y="451.70" width="3.60" height="23.70" fill="#009688"/></g><rect x="1437.26" y="444.40" width="1.5" height="36.00" fill="#000000"/><rect x="1435.06" y="450.60" width="5.90" height="29.80" fill="#000000"/><rect x="1436.21" y="451.70" width="3.60" height="27.60" fill="#ec1f66"/><rect x="1445.76" y="471.80" width="1.5" height="43.90" fill="#000000"/><rect x="1443.56" y="480.40" width="5.90" height="27.10" fill="#000000"/><rect x="1444.71" y="481.50" width="3.60" height="24.90" fill="#ec1f66"/><rect x="1454.27" y="496.30" width="1.5" height="21.50" fill="#000000"/><rect x="1452.07" y="507.50" width="5.90" height="6.40" fill="#000000"/><rect x="1453.22" y="508.60" width="3.60" height="4.20" fill="#ec1f66"/><rect x="1462.77" y="504.40" width="1.5" height="58.60" fill="#000000"/><rect x="1460.57" y="513.50" width="5.90" height="42.00" fill="#000000"/><rect x="1461.72" y="514.60" width="3.60" height="39.80" fill="#ec1f66"/><g opacity="0.5"><rect x="1471.27" y="539.30" width="1.5" height="22.20" fill="#111111"/><rect x="1469.07" y="544.30" width="5.90" height="11.20" fill="#111111"/><rect x="1470.22" y="545.40" width="3.60" height="9.00" fill="#009688"/></g><g opacity="0.5"><rect x="1479.77" y="526.70" width="1.5" height="24.80" fill="#111111"/><rect x="1477.57" y="535.80" width="5.90" height="8.50" fill="#111111"/><rect x="1478.72" y="536.90" width="3.60" height="6.30" fill="#009688"/></g><rect x="1488.28" y="532.60" width="1.5" height="57.90" fill="#000000"/><rect x="1486.08" y="535.80" width="5.90" height="16.00" fill="#000000"/><rect x="1487.23" y="536.90" width="3.60" height="13.80" fill="#ec1f66"/><rect x="1496.78" y="520.00" width="1.5" height="51.20" fill="#000000"/><rect x="1494.58" y="552.20" width="5.90" height="16.50" fill="#000000"/><rect x="1495.73" y="553.30" width="3.60" height="14.30" fill="#ec1f66"/><g opacity="0.5"><rect x="1505.28" y="548.30" width="1.5" height="29.20" fill="#111111"/><rect x="1503.08" y="566.90" width="5.90" height="1.6" fill="#111111"/></g><rect x="1513.78" y="555.50" width="1.5" height="20.30" fill="#000000"/><rect x="1511.58" y="564.60" width="5.90" height="1.6" fill="#000000"/><g opacity="0.5"><rect x="1522.29" y="554.10" width="1.5" height="18.40" fill="#111111"/><rect x="1520.09" y="557.20" width="5.90" height="9.30" fill="#111111"/><rect x="1521.24" y="558.30" width="3.60" height="7.10" fill="#009688"/></g><rect x="1530.79" y="553.20" width="1.5" height="100.60" fill="#000000"/><rect x="1528.59" y="556.50" width="5.90" height="90.10" fill="#000000"/><rect x="1529.74" y="557.60" width="3.60" height="87.90" fill="#ec1f66"/><g opacity="0.5"><rect x="1539.29" y="625.90" width="1.5" height="42.90" fill="#111111"/><rect x="1537.09" y="644.40" width="5.90" height="1.6" fill="#111111"/></g><g opacity="0.5"><rect x="1547.79" y="632.70" width="1.5" height="25.40" fill="#111111"/><rect x="1545.59" y="634.90" width="5.90" height="8.90" fill="#111111"/><rect x="1546.74" y="636.00" width="3.60" height="6.70" fill="#009688"/></g><g opacity="0.5"><rect x="1556.30" y="611.80" width="1.5" height="28.20" fill="#111111"/><rect x="1554.10" y="624.40" width="5.90" height="9.80" fill="#111111"/><rect x="1555.25" y="625.50" width="3.60" height="7.60" fill="#009688"/></g><g opacity="0.5"><rect x="1564.80" y="602.20" width="1.5" height="25.90" fill="#111111"/><rect x="1562.60" y="609.70" width="5.90" height="14.40" fill="#111111"/><rect x="1563.75" y="610.80" width="3.60" height="12.20" fill="#009688"/></g><g opacity="0.5"><rect x="1573.30" y="596.10" width="1.5" height="15.90" fill="#111111"/><rect x="1571.10" y="607.40" width="5.90" height="2.00" fill="#111111"/></g><g opacity="0.5"><rect x="1581.80" y="575.30" width="1.5" height="39.20" fill="#111111"/><rect x="1579.60" y="586.70" width="5.90" height="20.50" fill="#111111"/><rect x="1580.75" y="587.80" width="3.60" height="18.30" fill="#009688"/></g><rect x="1590.31" y="577.70" width="1.5" height="20.80" fill="#000000"/><rect x="1588.11" y="586.70" width="5.90" height="5.80" fill="#000000"/><rect x="1589.26" y="587.80" width="3.60" height="3.60" fill="#ec1f66"/><rect x="1598.81" y="588.30" width="1.5" height="23.00" fill="#000000"/><rect x="1596.61" y="592.50" width="5.90" height="15.40" fill="#000000"/><rect x="1597.76" y="593.60" width="3.60" height="13.20" fill="#ec1f66"/><g opacity="0.5"><rect x="1607.31" y="592.30" width="1.5" height="31.30" fill="#111111"/><rect x="1605.11" y="597.30" width="5.90" height="10.60" fill="#111111"/><rect x="1606.26" y="598.40" width="3.60" height="8.40" fill="#009688"/></g><rect x="1615.82" y="591.80" width="1.5" height="13.60" fill="#000000"/><rect x="1613.62" y="597.60" width="5.90" height="3.80" fill="#000000"/><rect x="1614.77" y="598.70" width="3.60" height="1.60" fill="#ec1f66"/><g opacity="0.5"><rect x="1624.32" y="596.30" width="1.5" height="17.20" fill="#111111"/><rect x="1622.12" y="597.50" width="5.90" height="3.90" fill="#111111"/><rect x="1623.27" y="598.60" width="3.60" height="1.70" fill="#009688"/></g><rect x="1632.82" y="597.30" width="1.5" height="22.20" fill="#000000"/><rect x="1630.62" y="597.50" width="5.90" height="18.00" fill="#000000"/><rect x="1631.77" y="598.60" width="3.60" height="15.80" fill="#ec1f66"/><g opacity="0.5"><rect x="1641.32" y="585.00" width="1.5" height="41.00" fill="#111111"/><rect x="1639.12" y="591.50" width="5.90" height="22.50" fill="#111111"/><rect x="1640.27" y="592.60" width="3.60" height="20.30" fill="#009688"/></g><g opacity="0.5"><rect x="1649.83" y="581.40" width="1.5" height="21.10" fill="#111111"/><rect x="1647.63" y="588.50" width="5.90" height="1.6" fill="#111111"/></g><g opacity="0.5"><rect x="1658.33" y="574.10" width="1.5" height="19.10" fill="#111111"/><rect x="1656.13" y="583.30" width="5.90" height="5.30" fill="#111111"/><rect x="1657.28" y="584.40" width="3.60" height="3.10" fill="#009688"/></g><rect x="1666.83" y="580.60" width="1.5" height="12.20" fill="#000000"/><rect x="1664.63" y="583.10" width="5.90" height="8.00" fill="#000000"/><rect x="1665.78" y="584.20" width="3.60" height="5.80" fill="#ec1f66"/><g opacity="0.5"><rect x="1675.33" y="583.10" width="1.5" height="30.30" fill="#111111"/><rect x="1673.13" y="583.80" width="5.90" height="7.30" fill="#111111"/><rect x="1674.28" y="584.90" width="3.60" height="5.10" fill="#009688"/></g><g opacity="0.5"><rect x="1683.84" y="565.20" width="1.5" height="18.60" fill="#111111"/><rect x="1681.64" y="577.90" width="5.90" height="5.90" fill="#111111"/><rect x="1682.79" y="579.00" width="3.60" height="3.70" fill="#009688"/></g><rect x="1692.34" y="575.60" width="1.5" height="25.20" fill="#000000"/><rect x="1690.14" y="577.80" width="5.90" height="14.60" fill="#000000"/><rect x="1691.29" y="578.90" width="3.60" height="12.40" fill="#ec1f66"/><rect x="1700.84" y="587.30" width="1.5" height="15.60" fill="#000000"/><rect x="1698.64" y="592.60" width="5.90" height="6.90" fill="#000000"/><rect x="1699.79" y="593.70" width="3.60" height="4.70" fill="#ec1f66"/><rect x="1709.34" y="600.40" width="1.5" height="24.80" fill="#000000"/><rect x="1707.14" y="600.40" width="5.90" height="12.20" fill="#000000"/><rect x="1708.29" y="601.50" width="3.60" height="10.00" fill="#ec1f66"/><g opacity="0.5"><rect x="1717.85" y="605.40" width="1.5" height="10.50" fill="#111111"/><rect x="1715.65" y="610.50" width="5.90" height="2.10" fill="#111111"/></g><rect x="1726.35" y="608.00" width="1.5" height="19.30" fill="#000000"/><rect x="1724.15" y="610.50" width="5.90" height="16.80" fill="#000000"/><rect x="1725.30" y="611.60" width="3.60" height="14.60" fill="#ec1f66"/><rect x="1734.85" y="626.00" width="1.5" height="23.60" fill="#000000"/><rect x="1732.65" y="627.30" width="5.90" height="5.90" fill="#000000"/><rect x="1733.80" y="628.40" width="3.60" height="3.70" fill="#ec1f66"/><rect x="1743.35" y="630.20" width="1.5" height="8.40" fill="#000000"/><rect x="1741.15" y="634.10" width="5.90" height="1.6" fill="#000000"/><path d="M1928 603.5 H2006.3 Q2009.3 603.5 2009.3 606.5 V625.5 Q2009.3 628.5 2006.3 628.5 H1928 Z" fill="#131313"/><text x="1940.31" y="622.8" font-family="'Liberation Sans', Arial, sans-serif" font-size="18" fill="#ffffff" textLength="60.06" lengthAdjust="spacingAndGlyphs">1.1424</text><path d="M1928 623.4 H2022.8 Q2025.8 623.4 2025.8 626.4 V645.4 Q2025.8 648.4 2022.8 648.4 H1928 Z" fill="#000"/><text x="1939.92" y="642.7" font-family="'Liberation Sans', Arial, sans-serif" font-size="18" fill="#d6d6d6" textLength="75.95" lengthAdjust="spacingAndGlyphs">02:53:01</text><path d="M1928 650.3 H2006.3 Q2009.3 650.3 2009.3 653.3 V671.9 Q2009.3 674.9 2006.3 674.9 H1928 Z" fill="#131313"/><text x="1940.31" y="669.4" font-family="'Liberation Sans', Arial, sans-serif" font-size="18" fill="#ffffff" textLength="60.06" lengthAdjust="spacingAndGlyphs">1.0350</text><path d="M1928 780.2 H2006.3 Q2009.3 780.2 2009.3 783.2 V802.0 Q2009.3 805.0 2006.3 805.0 H1928 Z" fill="#131313"/><text x="1940.31" y="799.4" font-family="'Liberation Sans', Arial, sans-serif" font-size="18" fill="#ffffff" textLength="60.06" lengthAdjust="spacingAndGlyphs">0.7347</text><path d="M1928 864.6 H2006.3 Q2009.3 864.6 2009.3 867.6 V886.0 Q2009.3 889.0 2006.3 889.0 H1928 Z" fill="#131313"/><text x="1940.31" y="883.6" font-family="'Liberation Sans', Arial, sans-serif" font-size="18" fill="#ffffff" textLength="60.06" lengthAdjust="spacingAndGlyphs">0.5404</text><text x="27.5" y="73.0" font-family="'Liberation Sans', Arial, sans-serif" font-size="17.5" fill="#1e2026" textLength="208.91" lengthAdjust="spacingAndGlyphs">Aster / USDT · 4h · MEXC</text><text x="246.35" y="73.0" font-family="'Liberation Sans', Arial, sans-serif" font-size="17.5" fill="#1e2026" textLength="63.78" lengthAdjust="spacingAndGlyphs">O1.1012</text><text x="320.89" y="73.0" font-family="'Liberation Sans', Arial, sans-serif" font-size="17.5" fill="#1e2026" textLength="67.09" lengthAdjust="spacingAndGlyphs">H1.1092</text><text x="398.85" y="73.0" font-family="'Liberation Sans', Arial, sans-serif" font-size="17.5" fill="#1e2026" textLength="66.12" lengthAdjust="spacingAndGlyphs">L1.0904</text><text x="475.45" y="73.0" font-family="'Liberation Sans', Arial, sans-serif" font-size="17.5" fill="#1e2026" textLength="69.53" lengthAdjust="spacingAndGlyphs">C1.0960</text><text x="555.6" y="73.0" font-family="'Liberation Sans', Arial, sans-serif" font-size="17.5" fill="#1e2026" textLength="154.63" lengthAdjust="spacingAndGlyphs">−0.0064 (−0.58%)</text><text x="720.3" y="73.0" font-family="'Liberation Sans', Arial, sans-serif" font-size="17.5" fill="#1e2026" textLength="153.82" lengthAdjust="spacingAndGlyphs">−0.0624 (−5.39%)</text><circle cx="1744" cy="1040.4" r="14.4" fill="none" stroke="#9c27b0" stroke-width="2.1"/><path d="M1747.6 1032.0 L1749.1 1033.3 L1745.1 1039.05 L1750.1 1039.2 L1749.9 1040.2 L1740.2 1048.0 L1739.0 1047.4 L1743.0 1041.15 L1737.9 1040.9 L1738.15 1040.2 Z" fill="#9c27b0"/><path d="M17.9 1132.9 H35.2 V1154.9 H26.7 V1141.4 H17.9 Z" fill="#131313"/><circle cx="42.8" cy="1137.2" r="4.25" fill="#131313"/><path d="M51.9 1132.9 H61.6 L53.4 1154.9 H43.1 Z" fill="#131313"/><text x="72.4" y="1155.2" font-family="'Liberation Sans', Arial, sans-serif" font-size="31" font-weight="bold" fill="#131313" textLength="178.25" lengthAdjust="spacingAndGlyphs">TradingView</text></svg>
</body></html>
